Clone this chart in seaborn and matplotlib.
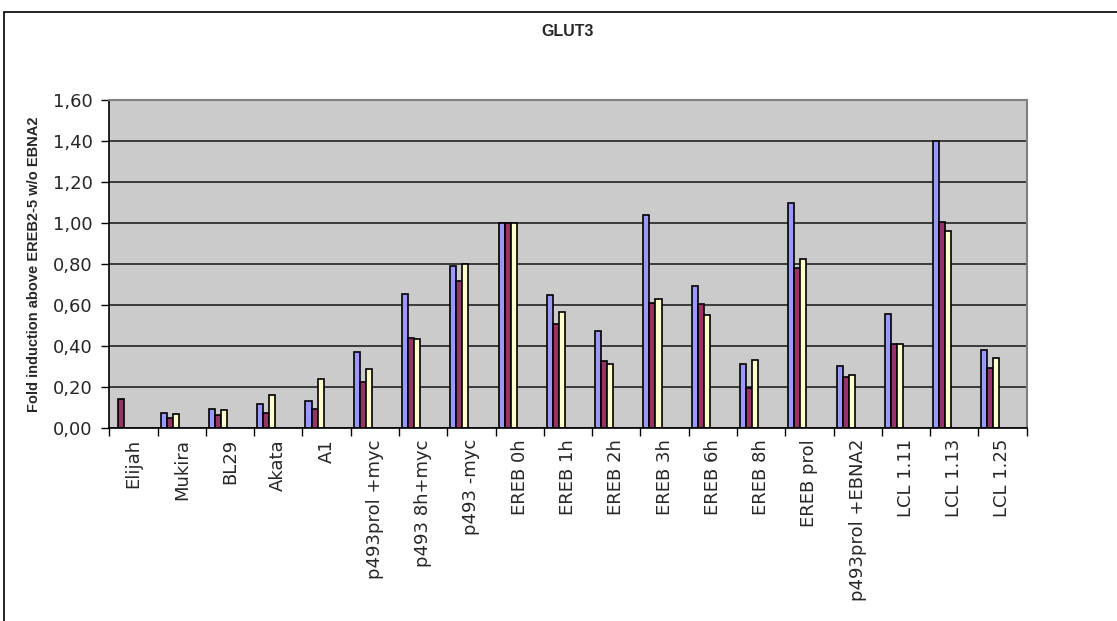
import pandas as pd
import numpy as np
import seaborn as sns
import matplotlib.pyplot as plt
from matplotlib.patches import Rectangle

# Chart data
categories = ["Elijah", "Mukira", "BL29", "Akata", "A1", "p493prol +myc",
              "p493 8h+myc", "p493 -myc", "EREB 0h", "EREB 1h", "EREB 2h",
              "EREB 3h", "EREB 6h", "EREB 8h", "EREB prol", "p493prol +EBNA2",
              "LCL 1.11", "LCL 1.13", "LCL 1.25"]
series_a = [np.nan, 0.075, 0.094, 0.119, 0.133, 0.372, 0.655, 0.789, 1.00,
            0.649, 0.475, 1.037, 0.691, 0.311, 1.099, 0.304, 0.558, 1.398, 0.380]
series_b = [0.141, 0.050, 0.063, 0.071, 0.094, 0.224, 0.441, 0.716, 1.00,
            0.506, 0.325, 0.611, 0.605, 0.193, 0.779, 0.250, 0.411, 1.005, 0.291]
series_c = [np.nan, 0.067, 0.086, 0.163, 0.241, 0.286, 0.436, 0.802, 1.00,
            0.564, 0.314, 0.629, 0.550, 0.333, 0.824, 0.260, 0.411, 0.962, 0.343]
y_ticks = [0.0, 0.2, 0.4, 0.6, 0.8, 1.0, 1.2, 1.4, 1.6]

# Excel chart reserved room for 7 series, only 3 are filled
series_names = ["s1", "s2", "s3", "s4", "s5", "s6", "s7"]
colors = ["#9999FF", "#993366", "#FFFFCC", "#FFFFFF", "#FFFFFF", "#FFFFFF", "#FFFFFF"]

rows = []
for name, vals in zip(series_names[:3], [series_a, series_b, series_c]):
    for cat, v in zip(categories, vals):
        rows.append({"category": cat, "series": name, "value": v})
for name in series_names[3:]:
    for cat in categories:
        rows.append({"category": cat, "series": name, "value": np.nan})
df = pd.DataFrame(rows)

sns.set_style("white")
plt.rcParams["font.family"] = ["DejaVu Sans"]

fig = plt.figure(figsize=(11.17, 6.21), dpi=100)
ax = fig.add_axes([0.0979, 0.3108, 0.8212, 0.5282])

sns.barplot(data=df, x="category", y="value", hue="series",
            order=categories, hue_order=series_names, palette=colors,
            saturation=1, width=0.875, edgecolor="black", linewidth=1.2,
            errorbar=None, legend=False, ax=ax)

ax.set_facecolor("#CBCBCB")
ax.set_ylim(0, 1.6)
ax.set_xlim(-0.5, len(categories) - 0.5)
ax.set_yticks(y_ticks)
ax.set_yticklabels([f"{t:.2f}".replace(".", ",") for t in y_ticks], fontsize=13)
ax.yaxis.grid(True, color="#222222", linewidth=1.2)
ax.set_axisbelow(True)

ax.set_xticks(range(len(categories)))
ax.set_xticklabels(categories, rotation=90, fontsize=13)
ax.tick_params(axis="x", length=0, pad=8)
ax.set_xticks(np.arange(-0.5, len(categories)), minor=True)
ax.tick_params(axis="x", which="minor", length=6, width=1, color="black",
               direction="out", bottom=True)
ax.tick_params(axis="y", length=6, width=1, color="black", direction="out",
               left=True, pad=6)

for side in ["top", "right"]:
    ax.spines[side].set_color("#808080")
    ax.spines[side].set_linewidth(1.5)
for side in ["left", "bottom"]:
    ax.spines[side].set_color("black")
    ax.spines[side].set_linewidth(1.2)

ax.set_xlabel("")
ax.set_ylabel("Fold induction above EREB2-5 w/o EBNA2", fontsize=10.5,
              fontweight="bold", family=["Liberation Sans"])
ax.yaxis.set_label_coords(-0.075, 0.5)
ax.set_title("GLUT3", fontsize=11.5, fontweight="bold", pad=46,
             family=["Liberation Sans"])

# outer chart frame
fig.add_artist(Rectangle((4 / 1117, -0.1), 1.2, 1 - 12 / 621 + 0.1,
                         transform=fig.transFigure, fill=False,
                         edgecolor="black", linewidth=1.2))

fig.savefig("out.png", dpi=100)
